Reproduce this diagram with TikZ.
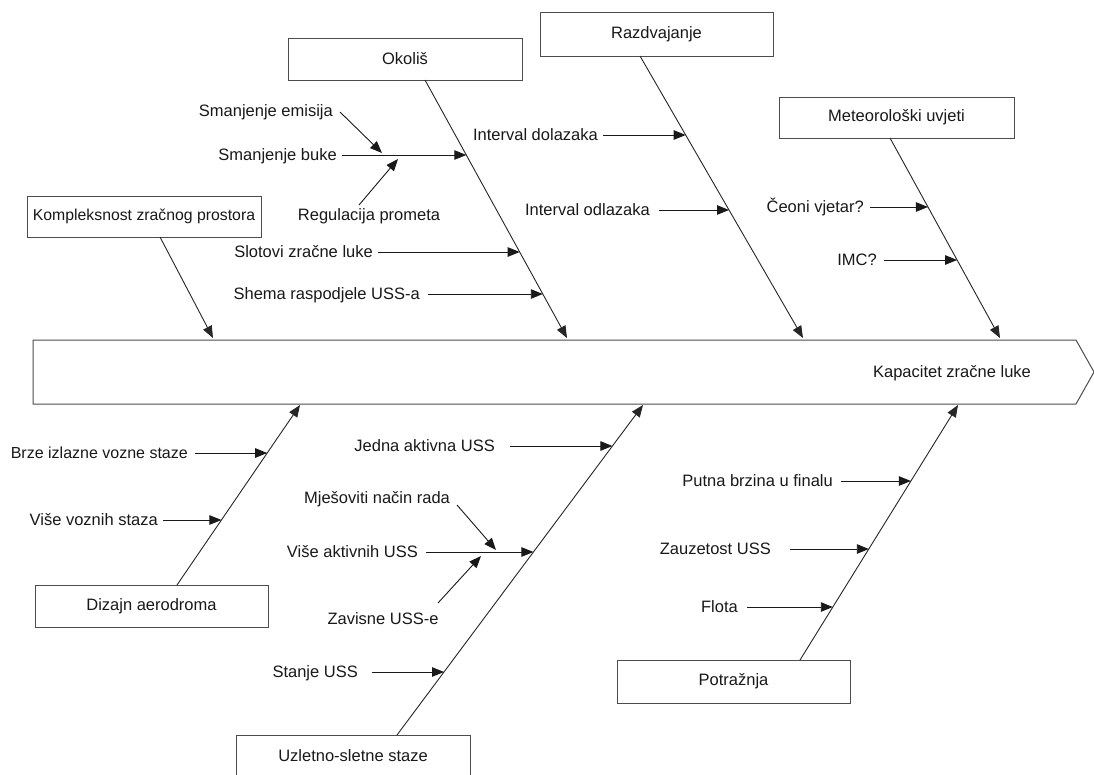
\documentclass[tikz,border=0pt]{standalone}
\usepackage{fontspec}
\setmainfont{Liberation Sans}
\usetikzlibrary{arrows.meta}
\newcommand\lblfont{\fontsize{16.5}{19}\selectfont}
\begin{document}
\begin{tikzpicture}[x=1pt,y=-1pt,
  box/.style={draw=black!70, line width=1pt, minimum width=234pt, minimum height=42pt, inner sep=0pt, font=\lblfont, text=black!90},
  lbl/.style={inner sep=0pt, anchor=east, font=\lblfont, text=black!90, text height=11.5pt, text depth=0pt},
  clbl/.style={lbl, anchor=center},
  bone/.style={draw=black!85, line width=0.9pt, -{Triangle[length=12pt,width=9.5pt]}},
  arr/.style={draw=black!90, line width=0.9pt, -{Triangle[length=12pt,width=9.5pt]}},
  spine/.style={draw=black!70, line width=1pt, fill=white},
]
\useasboundingbox (0,0) rectangle (1094,774);
\fill[white] (0,0) rectangle (1094,774);

% spine
\draw[spine] (33,340) -- (1076,340) -- (1094,372) -- (1076,404) -- (33,404) -- cycle;
\node[lbl, anchor=center] (head) at (952,372) {Kapacitet zračne luke};

% category boxes
\node[box] (okolis) at (405,59) {Okoliš};
\node[box, minimum width=233pt, minimum height=44pt] (razd) at (656.5,34) {Razdvajanje};
\node[box, minimum width=235pt, minimum height=41pt] (meteo) at (896.5,117.5) {Meteorološki uvjeti};
\node[box, minimum width=234pt, minimum height=41pt, font=\fontsize{15.8}{18}\selectfont] (komp) at (144,216.5) {Kompleksnost zračnog prostora};
\node[box, minimum width=233pt] (dizajn) at (151.5,606) {Dizajn aerodroma};
\node[box] (uzlet) at (353,756) {Uzletno-sletne staze};
\node[box, minimum width=233pt, minimum height=43pt] (potr) at (733.5,681.5) {Potražnja};

% bone coordinates
\coordinate (okB) at (425,80);   \coordinate (okE) at (567,338);
\coordinate (rzB) at (640,56);   \coordinate (rzE) at (803,338);
\coordinate (meB) at (890,138);  \coordinate (meE) at (1000,338);
\coordinate (koB) at (160,237);  \coordinate (koE) at (213,338);
\coordinate (diB) at (177,585);  \coordinate (diE) at (300,405);
\coordinate (uzB) at (397,735);  \coordinate (uzE) at (643,405);
\coordinate (poB) at (800,660);  \coordinate (poE) at (958,405);

\draw[bone] (okB) -- (okE);
\draw[bone] (rzB) -- (rzE);
\draw[bone] (meB) -- (meE);
\draw[bone] (koB) -- (koE);
\draw[bone] (diB) -- (diE);
\draw[bone] (uzB) -- (uzE);
\draw[bone] (poB) -- (poE);

% Okoliš causes
\node[lbl] (emis) at (333,111) {Smanjenje emisija};
\node[lbl] (buka) at (337,155) {Smanjenje buke};
\node[clbl] (regul) at (369,215) {Regulacija prometa};
\node[lbl] (slot) at (373,252) {Slotovi zračne luke};
\node[lbl] (shema) at (420,294) {Shema raspodjele USS-a};
\coordinate (bukaT) at (466.3,155);
\coordinate (slotT) at (519.7,252);
\coordinate (shemaT) at (542.8,294);
\coordinate (emisS) at (340,112);  \coordinate (emisT) at (382,153);
\coordinate (regulS) at (359,205); \coordinate (regulT) at (398,159);
\draw[arr] ([xshift=5pt]buka.east) -- (bukaT);
\draw[arr] (emisS) -- (emisT);
\draw[arr] (regulS) -- (regulT);
\draw[arr] ([xshift=5pt]slot.east) -- (slotT);
\draw[arr] ([xshift=8pt]shema.east) -- (shemaT);

% Razdvajanje causes
\node[lbl] (dol) at (598,135) {Interval dolazaka};
\node[lbl] (odl) at (650,210) {Interval odlazaka};
\coordinate (dolT) at (685.7,135);
\coordinate (odlT) at (729,210);
\draw[arr] ([xshift=5pt]dol.east) -- (dolT);
\draw[arr] ([xshift=9pt]odl.east) -- (odlT);

% Meteo causes
\node[lbl] (ceoni) at (864,207) {Čeoni vjetar?};
\node[lbl] (imc) at (877,260) {IMC?};
\coordinate (ceoniT) at (927.9,207);
\coordinate (imcT) at (957.1,260);
\draw[arr] ([xshift=6pt]ceoni.east) -- (ceoniT);
\draw[arr] ([xshift=7pt]imc.east) -- (imcT);

% Dizajn causes
\node[lbl, font=\fontsize{16}{19}\selectfont] (brze) at (188,453) {Brze izlazne vozne staze};
\node[lbl] (vise) at (158,520) {Više voznih staza};
\coordinate (brzeT) at (267.2,453);
\coordinate (viseT) at (221.4,520);
\draw[arr] ([xshift=7pt]brze.east) -- (brzeT);
\draw[arr] ([xshift=5pt]vise.east) -- (viseT);

% Uzletno-sletne causes
\node[lbl] (jedna) at (495,446) {Jedna aktivna USS};
\node[clbl] (mjes) at (377,498) {Mješoviti način rada};
\node[lbl] (visea) at (418,552) {Više aktivnih USS};
\node[clbl] (zav) at (383,619) {Zavisne USS-e};
\node[lbl] (stanje) at (358,672) {Stanje USS};
\coordinate (jednaT) at (612.4,446);
\coordinate (viseaT) at (533.4,552);
\coordinate (stanjeT) at (444,672);
\coordinate (mjesS) at (457,505); \coordinate (mjesT) at (496,550);
\coordinate (zavS) at (438,603);  \coordinate (zavT) at (481,556);
\draw[arr] ([xshift=15pt]jedna.east) -- (jednaT);
\draw[arr] (mjesS) -- (mjesT);
\draw[arr] ([xshift=8pt]visea.east) -- (viseaT);
\draw[arr] (zavS) -- (zavT);
\draw[arr] ([xshift=14pt]stanje.east) -- (stanjeT);

% Potražnja causes
\node[lbl] (putna) at (833,481) {Putna brzina u finalu};
\node[lbl] (zauz) at (771,549) {Zauzetost USS};
\node[lbl] (flota) at (738,607) {Flota};
\coordinate (putnaT) at (910.9,481);
\coordinate (zauzT) at (868.8,549);
\coordinate (flotaT) at (832.8,607);
\draw[arr] ([xshift=8pt]putna.east) -- (putnaT);
\draw[arr] ([xshift=19pt]zauz.east) -- (zauzT);
\draw[arr] ([xshift=9pt]flota.east) -- (flotaT);
\end{tikzpicture}
\end{document}
